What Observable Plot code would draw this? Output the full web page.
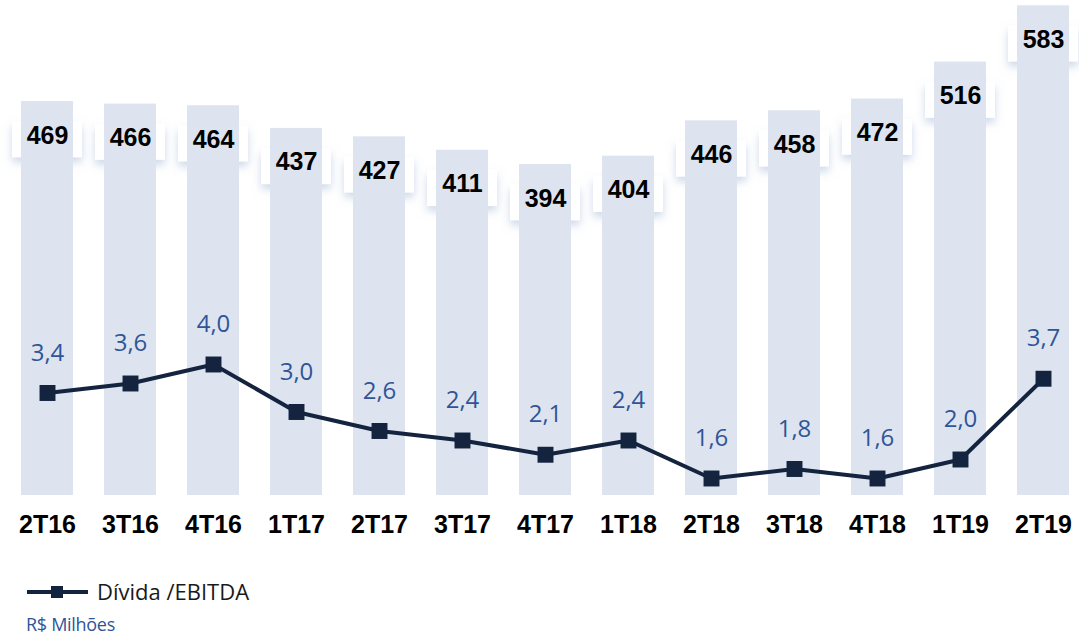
<!DOCTYPE html>
<html>
<head>
<meta charset="utf-8">
<script src="https://cdn.jsdelivr.net/npm/d3@7"></script>
<script src="https://cdn.jsdelivr.net/npm/@observablehq/plot@0.6"></script>
<style>
  html, body { margin: 0; padding: 0; background: #fff; }
  #wrap { position: relative; width: 1079px; height: 550px; }
  #wrap svg { position: absolute; left: 0; top: 0; overflow: visible; }
  #legend { position: relative; height: 88px; font-family: "Open Sans", "Noto Sans", sans-serif; }
</style>
</head>
<body>
<div id="wrap"></div>
<div id="legend"></div>
<script>
const quarters = ["2T16","3T16","4T16","1T17","2T17","3T17","4T17","1T18","2T18","3T18","4T18","1T19","2T19"];
const debt = [469, 466, 464, 437, 427, 411, 394, 404, 446, 458, 472, 516, 583];
const ratio = [3.4, 3.6, 4.0, 3.0, 2.6, 2.4, 2.1, 2.4, 1.6, 1.8, 1.6, 2.0, 3.7];
const seriesName = "Dívida /EBITDA";
const unitNote = "R$ Milhões";

const barData = quarters.map((q, i) => ({q, v: debt[i]}));
const lineData = quarters.map((q, i) => ({q, r: ratio[i]}));

const W = 1079, H = 550;
const xOpts = {domain: quarters, range: [0, 1090], paddingInner: 0.376, paddingOuter: 0.228, axis: null};

const barPlot = Plot.plot({
  width: W, height: H,
  marginTop: 0, marginBottom: 55, marginLeft: 0, marginRight: 0,
  x: xOpts,
  y: {domain: [0, 589.3], axis: null},
  marks: [
    Plot.rect(barData, {x: "q", y1: d => d.v - 24, y2: d => d.v - 67, fill: "#fff", insetLeft: -9, insetRight: -9, className: "lblbox"}),
    Plot.barY(barData, {x: "q", y: "v", fill: "#dde4f0"}),
    Plot.text(barData, {x: "q", y: "v", text: d => String(d.v), dy: 34, fontSize: 25, fontWeight: "bold", fill: "#000", fontFamily: "Liberation Sans, Arial, sans-serif"}),
    Plot.text(quarters, {x: d => d, frameAnchor: "bottom", dy: 37, fontSize: 25, fontWeight: "bold", fill: "#000", fontFamily: "Liberation Sans, Arial, sans-serif"})
  ]
});

const linePlot = Plot.plot({
  width: W, height: H,
  marginTop: 0, marginBottom: 55, marginLeft: 0, marginRight: 0,
  x: xOpts,
  y: {domain: [1.242, 11.663], axis: null},
  marks: [
    Plot.line(lineData, {x: "q", y: "r", stroke: "#14243f", strokeWidth: 4, curve: "linear"}),
    Plot.dot(lineData, {x: "q", y: "r", symbol: "square", r: 9, fill: "#14243f", stroke: "none"}),
    Plot.text(lineData, {x: "q", y: "r", text: d => d.r.toFixed(1).replace(".", ","), dy: -40, fontSize: 24, fill: "#2f5597", fontFamily: "Open Sans, Noto Sans, sans-serif"})
  ]
});
linePlot.style.background = "none";

const wrap = document.getElementById("wrap");
wrap.appendChild(barPlot);
wrap.appendChild(linePlot);

// soft shadow on the label boxes
const svg = d3.select(barPlot);
const defs = svg.insert("defs", ":first-child");
const f = defs.append("filter").attr("id", "shd").attr("x", "-30%").attr("y", "-30%").attr("width", "160%").attr("height", "170%");
f.append("feDropShadow").attr("dx", 0).attr("dy", 5).attr("stdDeviation", 4).attr("flood-color", "#9fb3d3").attr("flood-opacity", 0.5);
svg.selectAll(".lblbox").attr("filter", "url(#shd)");

// legend below the chart
const lg = d3.select("#legend");
const ls = lg.append("svg").attr("width", 100).attr("height", 30).style("position", "absolute").style("left", "24px").style("top", "27px");
ls.append("line").attr("x1", 3).attr("x2", 64).attr("y1", 15).attr("y2", 15).attr("stroke", "#14243f").attr("stroke-width", 4);
ls.append("rect").attr("x", 27).attr("y", 9).attr("width", 12).attr("height", 12).attr("fill", "#14243f");
lg.append("div").text(seriesName)
  .style("position", "absolute").style("left", "97px").style("top", "26px")
  .style("font-size", "22px").style("color", "#1a1a1a").style("font-family", "Open Sans, Noto Sans, sans-serif");
lg.append("div").text(unitNote)
  .style("position", "absolute").style("left", "26px").style("top", "62px")
  .style("font-size", "18px").style("color", "#2f5597").style("font-family", "Open Sans, Noto Sans, sans-serif")
  .style("letter-spacing", "-0.3px");
</script>
</body>
</html>
